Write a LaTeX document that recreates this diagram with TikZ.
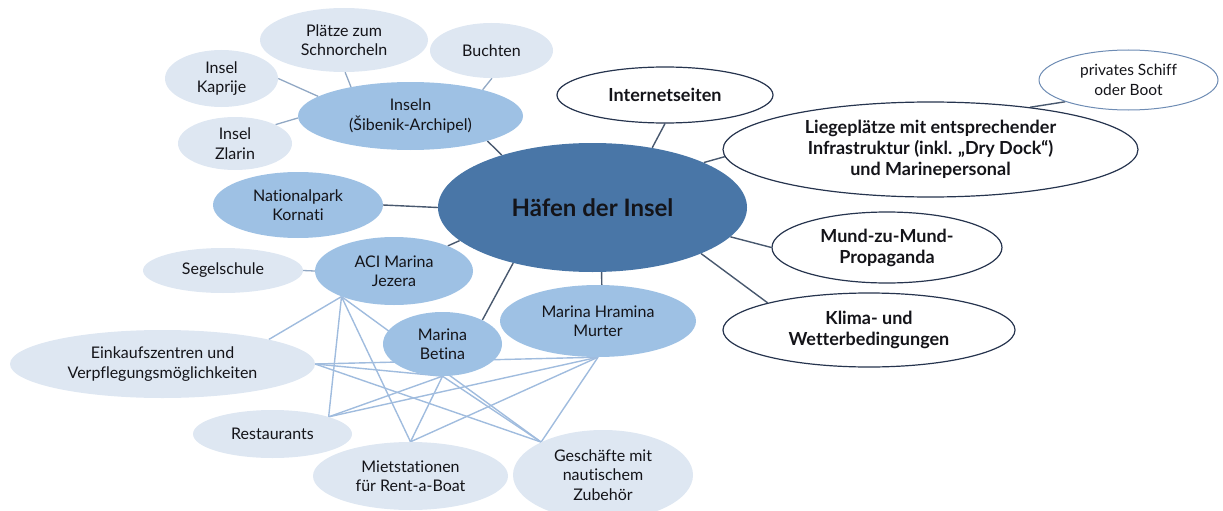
\documentclass[tikz,border=0pt]{standalone}
\usepackage{fontspec}
\setmainfont{Lato}[Ligatures=NoCommon]
\usetikzlibrary{shapes.geometric,backgrounds}
\definecolor{hubblue}{RGB}{73,118,167}
\definecolor{midblue}{RGB}{158,193,228}
\definecolor{lightblue}{RGB}{222,231,242}
\definecolor{navy}{RGB}{38,52,78}
\definecolor{darkline}{RGB}{72,88,110}
\definecolor{webline}{RGB}{160,188,222}
\definecolor{subline}{RGB}{145,168,196}
\definecolor{privline}{RGB}{110,140,180}
\definecolor{txt}{RGB}{20,20,25}
\begin{document}
\begin{tikzpicture}[x=1pt,y=-1pt,
  bub/.style={ellipse, inner sep=0pt, align=center, text=txt, font=\fontsize{16}{19.5}\selectfont},
  hubnode/.style={bub, fill=hubblue, font=\bfseries\fontsize{24}{28}\selectfont},
  midnode/.style={bub, fill=midblue},
  lightnode/.style={bub, fill=lightblue},
  outnode/.style={bub, draw=navy, line width=1.2pt, fill=white, font=\bfseries\fontsize{18}{21}\selectfont},
  privnode/.style={bub, draw=privline, line width=1pt, fill=white, font=\fontsize{15.5}{19.5}\selectfont},
  hubcon/.style={draw=darkline, line width=1.4pt},
  subcon/.style={draw=subline, line width=1.3pt},
  webcon/.style={draw=webline, line width=1.4pt}
]
\useasboundingbox (0,0) rectangle (1223,511);
% nodes
\node[hubnode, minimum width=309pt, minimum height=129pt] (hub) at (592.5,207.5) {Häfen der Insel};
\node[midnode, minimum width=225pt, minimum height=68pt] (ins) at (410.5,116) {Inseln\\(Šibenik-Archipel)};
\node[lightnode, minimum width=168pt, minimum height=64pt] (plz) at (344,40) {Plätze zum\\Schnorcheln};
\node[lightnode, minimum width=123pt, minimum height=55pt] (bucht) at (491.5,50.5) {Buchten};
\node[lightnode, minimum width=113pt, minimum height=57pt] (kap) at (221.5,78.5) {Insel\\Kaprije};
\node[lightnode, minimum width=114pt, minimum height=53pt] (zla) at (235,143.5) {Insel\\Zlarin};
\node[midnode, minimum width=170pt, minimum height=66pt] (nat) at (298,205) {Nationalpark\\Kornati};
\node[midnode, minimum width=158pt, minimum height=68pt] (aci) at (394,271) {ACI Marina\\Jezera};
\node[lightnode, minimum width=160pt, minimum height=45pt] (seg) at (223,270.5) {Segelschule};
\node[midnode, minimum width=119pt, minimum height=64pt] (bet) at (442.5,344) {Marina\\Betina};
\node[midnode, minimum width=196pt, minimum height=72pt] (hra) at (598,321) {Marina Hramina\\Murter};
\node[lightnode, minimum width=305pt, minimum height=68pt] (ein) at (162.5,364) {Einkaufszentren und\\Verpflegungsmöglichkeiten};
\node[lightnode, minimum width=159pt, minimum height=48pt] (rest) at (272.5,434) {Restaurants};
\node[lightnode, minimum width=195pt, minimum height=68pt] (miet) at (410.5,476) {Mietstationen\\für Rent-a-Boat};
\node[lightnode, minimum width=180pt, minimum height=90pt] (ges) at (603,475) {Geschäfte mit\\nautischem\\Zubehör};
\node[outnode, minimum width=216pt, minimum height=56pt] (inet) at (665,95) {Internetseiten};
\node[outnode, minimum width=415pt, minimum height=95pt] (lieg) at (930.5,149.5) {Liegeplätze mit entsprechender\\Infrastruktur (inkl. „Dry Dock“)\\und Marinepersonal};
\node[privnode, minimum width=179pt, minimum height=60pt] (priv) at (1128.5,80) {privates Schiff\\oder Boot};
\node[outnode, minimum width=230pt, minimum height=71pt] (mund) at (887,247.5) {Mund-zu-Mund-\\Propaganda};
\node[outnode, minimum width=292pt, minimum height=74pt] (klima) at (869,330) {Klima- und\\Wetterbedingungen};
% connectors
\begin{scope}[on background layer]
\draw[hubcon] (hub.150) -- (ins.-18);
\draw[hubcon] (hub.180) -- (nat.0);
\draw[hubcon] (hub.194) -- (aci.25);
\draw[hubcon] (hub.215) -- (bet.31);
\draw[hubcon] (hub.-82) -- (hra.84);
\draw[hubcon] (hub.45) -- (inet.-90);
\draw[hubcon] (hub.22) -- (lieg.182);
\draw[hubcon] (hub.-12) -- (mund.180);
\draw[hubcon] (hub.-23) -- (klima.165);
\draw[hubcon] (lieg.23) -- (priv.199);
\draw[subcon] (ins.154) -- (plz.-88);
\draw[subcon] (ins.20) -- (bucht.-89);
\draw[subcon] (ins.168) -- (kap.0);
\draw[subcon] (ins.181) -- (zla.25);
\draw[subcon] (aci.180) -- (seg.0);
\draw[webcon] (aci.206) -- (ein.13);
\draw[webcon] (aci.206) -- (rest.17);
\draw[webcon] (aci.206) -- (miet.90);
\draw[webcon] (aci.206) -- (ges.152);
\draw[webcon] (bet.-90) -- (ein.0);
\draw[webcon] (bet.-90) -- (rest.17);
\draw[webcon] (bet.-90) -- (miet.90);
\draw[webcon] (bet.-90) -- (ges.152);
\draw[webcon] (hra.-90) -- (ein.0);
\draw[webcon] (hra.-90) -- (rest.17);
\draw[webcon] (hra.-90) -- (miet.90);
\draw[webcon] (hra.-90) -- (ges.152);
\draw[webcon] (ein.0) -- (ges.152);
\end{scope}
\end{tikzpicture}
\end{document}
